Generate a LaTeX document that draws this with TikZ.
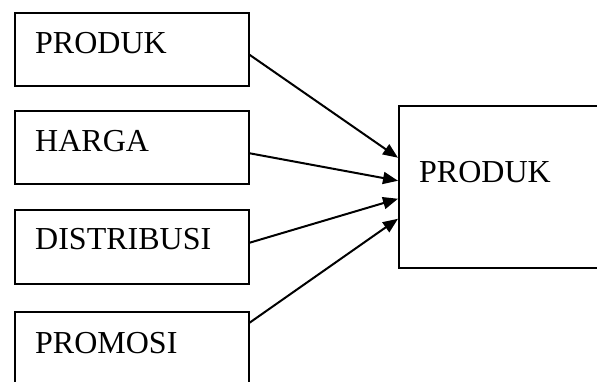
\documentclass[tikz,border=0pt]{standalone}
\usepackage{fontspec}
\setmainfont{Liberation Serif}
\usetikzlibrary{arrows.meta}
\begin{document}
\begin{tikzpicture}[x=1pt,y=-1pt,
  box/.style={draw=black, line width=1.5pt, inner sep=0pt, anchor=north west},
  lbl/.style={inner sep=0pt, anchor=base west, font=\fontsize{32}{38}\selectfont},
  conn/.style={line width=2pt, -{Triangle[length=15pt,width=12pt]}}]
\useasboundingbox (0,0) rectangle (597,381);
\node[box, minimum width=234pt, minimum height=73pt] (b1) at (14,12) {};
\node[box, minimum width=234pt, minimum height=73pt] (b2) at (14,110) {};
\node[box, minimum width=234pt, minimum height=74pt] (b3) at (14,209) {};
\node[box, minimum width=234pt, minimum height=90pt] (b4) at (14,311) {};
\node[box, minimum width=210pt, minimum height=162pt] (r) at (398,105) {};
\node[lbl] (t1) at (35,53) {PRODUK};
\node[lbl] (t2) at (35,151) {HARGA};
\node[lbl] (t3) at (35,249) {DISTRIBUSI};
\node[lbl] (t4) at (35,353) {PROMOSI};
\node[lbl] (t5) at (419,182) {PRODUK};
\coordinate (e1) at ([yshift=29pt]r.west);
\coordinate (e2) at ([yshift=6pt]r.west);
\coordinate (e3) at ([yshift=-12pt]r.west);
\coordinate (e4) at ([yshift=-32pt]r.west);
\draw[conn] ([yshift=-5.5pt]b1.east) -- (e1);
\draw[conn] ([yshift=-6pt]b2.east) -- (e2);
\draw[conn] ([yshift=4pt]b3.east) -- (e3);
\draw[conn] ([yshift=34pt]b4.east) -- (e4);
\end{tikzpicture}
\end{document}
